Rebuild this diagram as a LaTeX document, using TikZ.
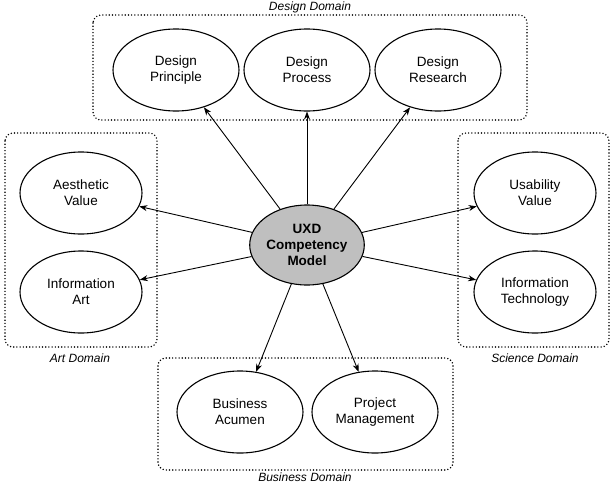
\documentclass[tikz,border=0pt]{standalone}
\usepackage{fontspec}
\setmainfont{Liberation Sans}
\usetikzlibrary{shapes.geometric,arrows.meta}
\begin{document}
\begin{tikzpicture}[x=1pt,y=-1pt,
  el/.style={draw,line width=1.1pt,ellipse,inner sep=0pt,minimum width=126pt,minimum height=82pt,align=center,font=\fontsize{13.5}{16}\selectfont},
  dom/.style={draw,line width=1.6pt,line cap=round,dash pattern=on 0pt off 3.2pt,rounded corners=8pt},
  lab/.style={font=\itshape\fontsize{12}{14}\selectfont},
  arr/.style={-{Stealth[length=8pt,width=6pt]},line width=0.9pt}]
\useasboundingbox (0,0) rectangle (614,485);
\draw[dom] (93,15) rectangle (527,120);
\draw[dom] (5,133) rectangle (157,347);
\draw[dom] (458,133) rectangle (609,347);
\draw[dom] (158,358) rectangle (453,470);
\node[lab] (ld) at (310,7) {Design Domain};
\node[lab] (la) at (80,358) {Art Domain};
\node[lab] (ls) at (535,358) {Science Domain};
\node[lab] (lb) at (305,477) {Business Domain};
\node[el] (dp) at (176,70) {Design\\Principle};
\node[el] (dpr) at (307,70) {Design\\Process};
\node[el] (dr) at (438,70) {Design\\Research};
\node[el,minimum width=122pt] (av) at (81,193) {Aesthetic\\Value};
\node[el,minimum width=122pt] (ia) at (81,292) {Information\\Art};
\node[el,minimum width=122pt] (uv) at (535,193) {Usability\\Value};
\node[el,minimum width=122pt] (it) at (535,292) {Information\\Technology};
\node[el] (ba) at (240,412) {Business\\Acumen};
\node[el] (pm) at (375,412) {Project\\Management};
\node[el,fill=black!25,minimum width=112pt,minimum height=80pt,font=\bfseries\fontsize{13.5}{16}\selectfont] (c) at (307,245) {UXD\\Competency\\Model};
\foreach \t in {dp,dpr,dr,av,ia,uv,it,ba,pm} \draw[arr] (c) -- (\t);
\end{tikzpicture}
\end{document}
